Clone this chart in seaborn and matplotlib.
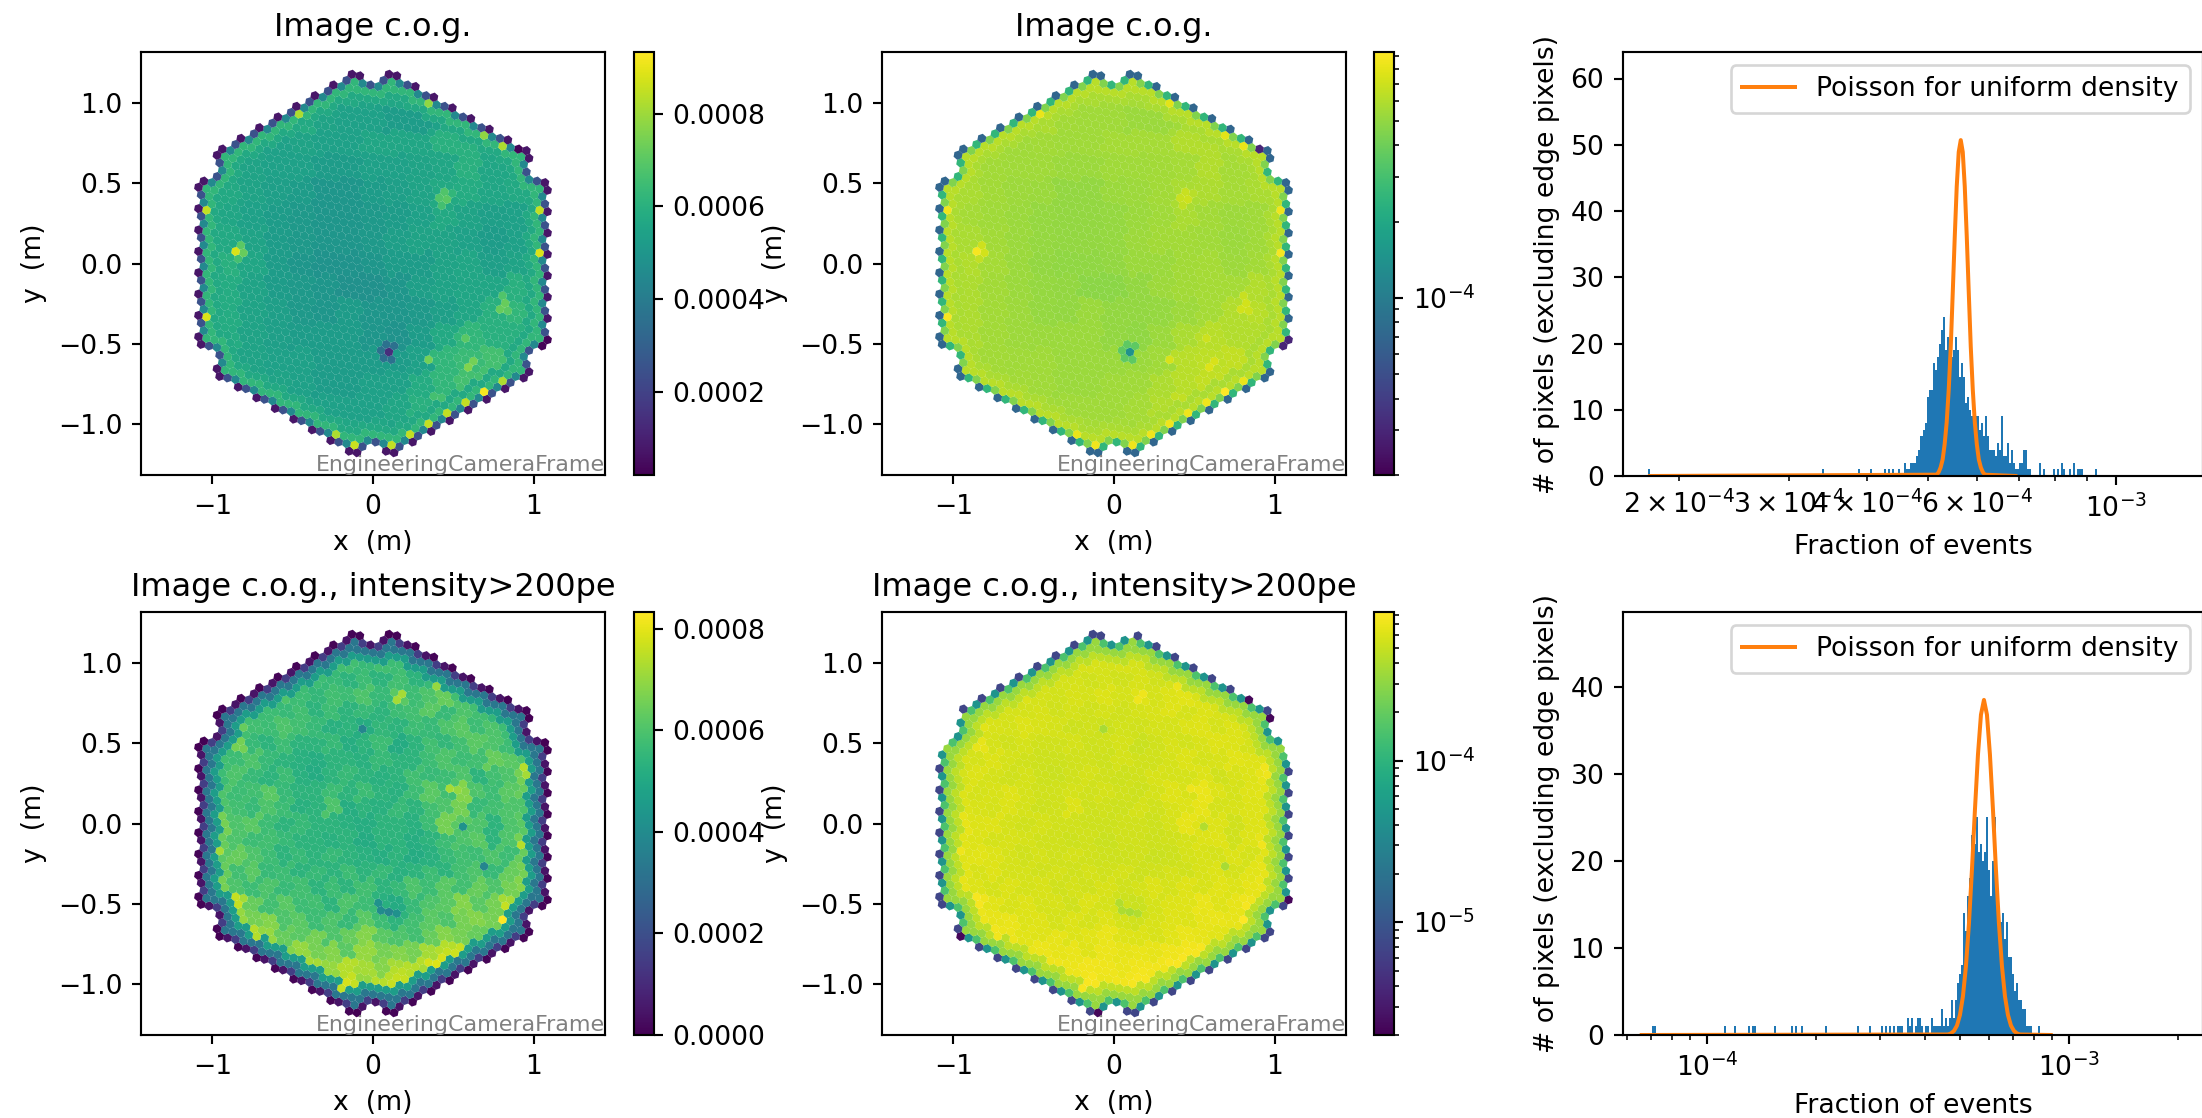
import numpy as np
import matplotlib
matplotlib.use("Agg")
import matplotlib.pyplot as plt
from matplotlib.cm import ScalarMappable
from matplotlib.colors import LogNorm, Normalize
import seaborn as sns

DPI = 192
FIG_W, FIG_H = 2202, 1118

# Image c.o.g. map in units of 1e-5.
# rows y = 1.05 ... -1.05 (step 0.15), columns x = -1.05 ... 1.05 (step 0.15)
COG_ROWS = [
    [54, 54, 54, 54, 54, 54, 57, 55, 56, 54, 54, 54, 54, 54, 54],
    [57, 57, 57, 58, 58, 55, 54, 54, 52, 52, 54, 56, 57, 57, 57],
    [58, 58, 58, 54, 55, 54, 54, 56, 56, 56, 60, 60, 60, 62, 62],
    [58, 58, 55, 54, 54, 52, 52, 54, 54, 55, 56, 60, 56, 57, 60],
    [58, 57, 55, 53, 52, 50, 50, 52, 53, 55, 57, 58, 56, 57, 60],
    [60, 56, 54, 52, 51, 50, 50, 51, 52, 54, 57, 55, 53, 54, 60],
    [60, 57, 55, 52, 51, 50, 50, 51, 53, 55, 55, 54, 52, 54, 60],
    [62, 60, 56, 52, 50, 49, 49, 50, 52, 52, 55, 56, 53, 55, 62],
    [60, 58, 55, 52, 51, 50, 48, 48, 50, 53, 55, 56, 56, 60, 62],
    [60, 58, 55, 53, 51, 50, 52, 50, 50, 51, 53, 56, 60, 62, 62],
    [60, 58, 55, 53, 52, 52, 52, 50, 49, 52, 57, 62, 60, 60, 60],
    [58, 58, 55, 54, 54, 52, 52, 52, 52, 54, 62, 64, 66, 62, 60],
    [60, 60, 58, 55, 54, 52, 52, 54, 54, 58, 62, 66, 70, 68, 60],
    [60, 60, 60, 58, 55, 54, 54, 54, 56, 60, 66, 68, 60, 60, 60],
    [58, 58, 58, 58, 58, 58, 56, 56, 55, 56, 60, 60, 60, 60, 60],
]
# single pixels that stand out from the blocks above
COG_SPOT_X = [0.685, 0.569, 0.455, 0.341, 0.226, 0.112, -0.116, -0.231, 0.800, 0.685,
              1.028, 1.028, -1.030, -1.030, -0.457, 0.341, 0.800, -0.852, 0.098,
              0.07, 0.13, 0.05, 0.07, 0.13, -0.82, -0.80, -0.84, 0.44, 0.47, 0.42,
              0.44, 0.49, 0.814, 0.78, 0.835, 0.80, 0.34, 0.569, 0.617, 0.58,
              0.897, 1.078, 1.043]
COG_SPOT_Y = [-0.791, -0.860, -0.924, -0.993, -1.057, -1.124, -1.124, -1.057, 0.727, 0.791,
              0.330, 0.066, 0.330, -0.332, 0.922, 0.991, -0.727, 0.077, -0.548,
              -0.50, -0.51, -0.54, -0.58, -0.58, 0.11, 0.066, 0.03, 0.43, 0.40, 0.39,
              0.36, 0.43, -0.245, -0.287, -0.29, -0.197, -0.594, -0.463, -0.608, -0.65,
              0.71, -0.473, -0.505]
COG_SPOT_V = [92, 85, 85, 85, 85, 85, 86, 82, 82, 78,
              85, 88, 85, 88, 82, 78, 82, 88, 14,
              36, 36, 36, 36, 36, 70, 72, 66, 68, 70, 68,
              66, 62, 72, 72, 70, 68, 74, 70, 74, 76,
              3, 3, 3]
# rim: pixels with >=3, 2, 1 missing neighbours, then second and third ring
COG_RIM = [7, 25, 45, 62, 57]

# Image c.o.g., intensity>200pe, units of 1e-5
# rows y = 1.0 ... -1.0 (step 0.1), columns x = -1.05 ... 1.05 (step 0.1)
HIGH_ROWS = [
    [54, 54, 54, 54, 54, 54, 55, 55, 56, 58, 56, 58, 57, 54, 57, 56, 54, 54, 54, 54, 54, 54],
    [54, 54, 54, 54, 54, 54, 56, 57, 56, 54, 57, 54, 58, 54, 56, 57, 56, 54, 54, 54, 54, 54],
    [54, 54, 54, 54, 56, 60, 57, 55, 58, 57, 60, 56, 62, 57, 60, 64, 58, 56, 57, 54, 54, 54],
    [54, 54, 56, 54, 57, 56, 58, 54, 57, 54, 56, 54, 57, 58, 62, 56, 60, 58, 55, 57, 54, 54],
    [54, 56, 64, 58, 57, 60, 58, 56, 53, 54, 52, 55, 54, 57, 56, 60, 62, 57, 60, 57, 56, 54],
    [56, 57, 66, 56, 54, 57, 54, 54, 56, 52, 54, 57, 51, 54, 58, 55, 58, 62, 60, 57, 58, 56],
    [54, 58, 57, 60, 56, 54, 53, 52, 54, 54, 53, 56, 54, 54, 57, 60, 57, 58, 64, 62, 60, 58],
    [62, 57, 60, 56, 54, 57, 53, 51, 54, 56, 54, 53, 54, 58, 56, 57, 60, 54, 58, 60, 66, 60],
    [58, 60, 57, 58, 62, 56, 54, 54, 57, 54, 57, 54, 53, 57, 62, 58, 68, 60, 57, 62, 64, 58],
    [64, 60, 58, 56, 60, 57, 53, 54, 60, 52, 54, 53, 56, 54, 58, 60, 66, 56, 58, 60, 60, 57],
    [62, 66, 60, 62, 57, 54, 56, 54, 54, 53, 52, 54, 54, 53, 57, 66, 62, 60, 54, 60, 62, 58],
    [60, 64, 60, 57, 58, 56, 54, 54, 53, 54, 51, 54, 54, 52, 54, 57, 60, 62, 54, 60, 66, 57],
    [66, 62, 64, 60, 57, 54, 56, 54, 56, 54, 53, 52, 54, 51, 53, 56, 58, 57, 60, 57, 64, 60],
    [60, 64, 58, 62, 56, 57, 54, 56, 54, 57, 54, 56, 53, 54, 57, 54, 58, 60, 56, 64, 66, 60],
    [62, 66, 60, 57, 60, 56, 58, 54, 57, 54, 58, 54, 56, 60, 57, 62, 58, 64, 60, 66, 68, 60],
    [60, 68, 72, 64, 58, 62, 57, 58, 54, 60, 57, 53, 51, 56, 60, 62, 68, 62, 66, 72, 66, 58],
    [57, 64, 70, 66, 68, 60, 62, 57, 60, 56, 62, 57, 54, 58, 62, 60, 66, 68, 66, 70, 62, 56],
    [54, 60, 66, 72, 70, 64, 62, 66, 60, 64, 68, 62, 60, 58, 64, 68, 66, 64, 72, 68, 60, 54],
    [54, 54, 62, 64, 66, 68, 70, 66, 68, 62, 70, 66, 68, 66, 72, 74, 76, 72, 70, 64, 57, 54],
    [54, 54, 54, 54, 62, 66, 70, 72, 70, 74, 72, 68, 72, 74, 72, 70, 72, 66, 60, 56, 54, 54],
    [54, 54, 54, 54, 54, 54, 60, 66, 72, 76, 70, 74, 76, 72, 68, 62, 56, 54, 54, 54, 54, 54],
]
HIGH_SPOT_X = [0.80, 0.34, 0.388, 0.424, 0.455, 0.503, -0.168, -0.193, 0.174, 0.129,
               -0.854, -0.833, -0.95, -0.74, -0.719, 0.685, -0.064, 0.555, 0.928, 0.953,
               0.471, 0.519, 0.15, 0.177, 0.393, 0.083, 0.046, 0.035, 0.145, 0.905, 0.815]
HIGH_SPOT_Y = [-0.598, -0.864, -0.87, -0.833, -0.797, -0.806, -0.984, -1.02, -0.92, -0.905,
               -0.455, -0.50, -0.172, -0.656, -0.698, -0.266, 0.585, -0.023, 0.351, 0.30,
               0.212, 0.206, 0.76, 0.80, 0.845, -0.552, -0.542, -0.496, -0.559, -0.137, -0.51]
HIGH_SPOT_V = [83, 78, 79, 78, 76, 77, 78, 76, 75, 74,
               76, 76, 72, 74, 74, 38, 38, 42, 74, 72,
               72, 70, 72, 72, 70, 38, 40, 42, 42, 74, 76]
HIGH_RIM = [0.7, 4.5, 15, 33, 46]
# rim pixels with no events at all: blank in the log maps
EMPTY_X = [0.098, 1.063, 1.078, -1.08, -1.045, -0.966]
EMPTY_Y = [1.17, 0.492, 0.451, 0.465, 0.509, 0.662]
FAINT_X = [0.832, 0.968, -0.947, -0.096, 1.082]
FAINT_Y = [0.764, 0.650, -0.70, -1.173, -0.475]

# histogram of the c.o.g. map (excluding edge pixels)
COG_TAIL_X = [1.80e-4, 3.40e-4, 3.90e-4, 4.08e-4, 4.27e-4, 4.35e-4, 4.41e-4, 4.51e-4,
              7.56e-4, 7.67e-4, 7.96e-4, 8.07e-4, 8.20e-4, 8.28e-4, 8.41e-4, 8.57e-4,
              8.66e-4, 8.76e-4, 8.82e-4, 9.29e-4]
COG_TAIL_N = [1, 1, 1, 1, 1, 1, 1, 1, 2, 1, 1, 1, 2, 1, 1, 2, 1, 1, 1, 1]
COG_CORE_LO, COG_CORE_HI = 4.61e-4, 7.28e-4
COG_CORE_N = [2, 1, 1, 2, 2, 2, 3, 4, 6, 7, 8, 12, 13, 13, 17, 16, 18, 20, 22, 24, 19,
              21, 19, 18, 19, 21, 19, 15, 17, 15, 11, 12, 10, 9, 8, 9, 9, 7, 8, 6, 9,
              6, 4, 4, 4, 3, 5, 4, 9, 3, 3, 5, 2, 4, 2, 1, 1, 2, 2, 4, 4, 1, 1]
COG_POISSON_X = [1.80e-4, 5.171e-4, 5.209e-4, 5.247e-4, 5.286e-4, 5.325e-4, 5.365e-4,
                 5.405e-4, 5.446e-4, 5.486e-4, 5.527e-4, 5.567e-4, 5.608e-4, 5.65e-4,
                 5.692e-4, 5.734e-4, 5.776e-4, 5.819e-4, 5.862e-4, 5.906e-4, 5.950e-4,
                 5.994e-4, 6.038e-4, 6.083e-4, 6.128e-4, 6.173e-4, 6.91e-4]
COG_POISSON_Y = [0, 0.2, 0.58, 1.3, 2.5, 4.8, 8.1, 13, 19.5, 27.7, 36.2, 43.7, 48.9, 50.7,
                 48.9, 43.7, 36.2, 27.7, 19.5, 13, 8.1, 4.8, 2.5, 1.3, 0.58, 0.2, 0]
COG_XLIM = (1.63e-4, 1.378e-3)
COG_YLIM = (0, 64)

# same for the intensity>200pe map
HIGH_TAIL_X = [7.05e-5, 7.2e-5, 1.12e-4, 1.19e-4, 1.31e-4, 1.34e-4, 1.36e-4, 1.55e-4,
               1.72e-4, 1.75e-4, 1.82e-4, 2.13e-4, 2.61e-4, 2.81e-4, 3.04e-4, 3.12e-4,
               3.2e-4, 3.28e-4, 3.35e-4, 3.4e-4, 3.46e-4, 3.59e-4, 3.66e-4, 3.71e-4,
               3.78e-4, 3.85e-4, 8.26e-4]
HIGH_TAIL_N = [1, 1, 1, 1, 1, 1, 1, 1, 1, 1, 1, 1, 1, 1, 1, 1, 1, 1, 1, 1, 1, 2, 1, 2, 1, 2, 1]
HIGH_CORE_LO, HIGH_CORE_HI = 3.88e-4, 7.84e-4
HIGH_CORE_N = [2, 1, 0, 1, 1, 0, 2, 1, 1, 1, 1, 3, 1, 2, 1, 2, 4, 2, 4, 6, 7, 8, 14, 12,
               16, 18, 23, 22, 25, 21, 22, 20, 21, 25, 19, 16, 20, 25, 16, 14, 13, 14,
               11, 13, 9, 9, 7, 5, 6, 4, 4, 3, 3, 1, 1, 1]
HIGH_POISSON_X = [6.6e-5, 4.629e-4, 4.718e-4, 4.809e-4, 4.902e-4, 4.996e-4, 5.092e-4,
                  5.190e-4, 5.290e-4, 5.392e-4, 5.496e-4, 5.602e-4, 5.710e-4, 5.82e-4,
                  5.932e-4, 6.046e-4, 6.163e-4, 6.281e-4, 6.402e-4, 6.526e-4, 6.652e-4,
                  6.780e-4, 6.911e-4, 7.044e-4, 7.180e-4, 7.318e-4, 8.9e-4]
HIGH_POISSON_Y = [0, 0.06, 0.18, 0.47, 1.08, 2.3, 4.45, 7.9, 12.8, 19, 25.9, 32.2, 36.8, 38.5,
                  36.8, 32.2, 25.9, 19, 12.8, 7.9, 4.45, 2.3, 1.08, 0.47, 0.18, 0.06, 0]
HIGH_XLIM = (5.86e-5, 2.344e-3)
HIGH_YLIM = (0, 48.6)

TITLES = ["Image c.o.g.", "Image c.o.g., intensity>200pe"]
FRAME_LABEL = "EngineeringCameraFrame"
POISSON_LABEL = "Poisson for uniform density"
HIST_YLABEL = "# of pixels (excluding edge pixels)"

PITCH = 0.0503
PIXEL_AREA = 12.6
MAP_LIM = (1.445, 1.318)


def camera_sites():
    """LST camera layout: 265 flowers of 7 pixels, in lattice coordinates."""
    sites = set()
    for i in range(-9, 10):
        for j in range(-9, 10):
            if max(abs(i), abs(j), abs(i + j)) > 9:
                continue
            if (abs(i), abs(j)) in [(9, 0), (0, 9), (9, 9)]:
                continue
            # module centre = i * (2U + V) + j * (3V - U)
            cu, cv = 2 * i - j, i + 3 * j
            for du, dv in [(0, 0), (1, 0), (-1, 0), (0, 1), (0, -1), (1, -1), (-1, 1)]:
                sites.add((cu + du, cv + dv))
    return sites


SITES = sorted(camera_sites())
STEPS = [(1, 0), (-1, 0), (0, 1), (0, -1), (1, -1), (-1, 1)]
_lookup = set(SITES)
MISSING = np.array([sum((u + a, v + b) not in _lookup for a, b in STEPS) for u, v in SITES])


def next_ring(ring, seen):
    return {(u + a, v + b) for u, v in ring for a, b in STEPS} & _lookup - seen


_ring1 = {s for s, m in zip(SITES, MISSING) if m > 0}
_ring2 = next_ring(_ring1, _ring1)
_ring3 = next_ring(_ring2, _ring1 | _ring2)
SECOND = np.array([s in _ring2 for s in SITES])
THIRD = np.array([s in _ring3 for s in SITES])
_ang_u, _ang_v = np.radians(109.1), np.radians(49.1)
PX = np.array([PITCH * (u * np.cos(_ang_u) + v * np.cos(_ang_v)) for u, v in SITES])
PY = np.array([PITCH * (u * np.sin(_ang_u) + v * np.sin(_ang_v)) for u, v in SITES])


def nearest(x, y):
    return np.argmin((PX - x) ** 2 + (PY - y) ** 2)


def pixel_values(rows, x0, y0, step, rim, spot_x, spot_y, spot_v):
    rows = np.array(rows, dtype=float)
    col = np.clip(np.rint((PX - x0) / step).astype(int), 0, rows.shape[1] - 1)
    row = np.clip(np.rint((y0 - PY) / step).astype(int), 0, rows.shape[0] - 1)
    vals = rows[row, col]
    vals[MISSING >= 3] = rim[0]
    vals[MISSING == 2] = rim[1]
    vals[MISSING == 1] = rim[2]
    vals[SECOND] = rim[3]
    vals[THIRD] = rim[4]
    for x, y, v in zip(spot_x, spot_y, spot_v):
        vals[nearest(x, y)] = v
    return vals * 1e-5


def axes_at(fig, left, top, right, bottom):
    return fig.add_axes([left / FIG_W, 1 - bottom / FIG_H,
                         (right - left) / FIG_W, (bottom - top) / FIG_H])


def draw_map(fig, box, cbar_box, vals, norm, title):
    ax = axes_at(fig, *box)
    keep = vals > 0 if isinstance(norm, LogNorm) else np.ones(len(vals), dtype=bool)
    sns.scatterplot(x=PX[keep], y=PY[keep], hue=vals[keep], hue_norm=norm, palette="viridis",
                    marker=(6, 0, -10.9), s=PIXEL_AREA, linewidth=0, legend=False, ax=ax)
    ax.set_xlim(-MAP_LIM[0], MAP_LIM[0])
    ax.set_ylim(-MAP_LIM[1], MAP_LIM[1])
    ax.set_xticks([-1, 0, 1])
    ax.set_yticks([-1, -0.5, 0, 0.5, 1])
    ax.set_xlabel("x  (m)")
    ax.set_ylabel("y  (m)")
    ax.set_title(title, fontsize=12)
    ax.text(1, 0, FRAME_LABEL, transform=ax.transAxes, ha="right", va="bottom",
            color="gray", fontsize=8.3)
    cax = axes_at(fig, *cbar_box)
    fig.colorbar(ScalarMappable(norm=norm, cmap="viridis"), cax=cax)


def draw_hist(fig, box, tail_x, tail_n, core_lo, core_hi, core_n, curve_x, curve_y, xlim, ylim, yticks):
    ax = axes_at(fig, *box)
    core_x = np.geomspace(core_lo, core_hi, len(core_n))
    step = np.log10(core_hi / core_lo) / (len(core_n) - 1)
    start = np.log10(core_lo) - step / 2 - 400 * step
    stop = np.log10(core_hi) + step / 2 + 100 * step
    sns.histplot(x=np.concatenate([tail_x, core_x]), weights=np.concatenate([tail_n, core_n]),
                 binwidth=step, binrange=(start, stop), log_scale=True,
                 color="C0", alpha=1, linewidth=0, ax=ax)
    sns.lineplot(x=curve_x, y=curve_y, color="C1", label=POISSON_LABEL, ax=ax)
    ax.set_xlim(*xlim)
    ax.set_ylim(*ylim)
    ax.set_yticks(yticks)
    ax.set_xlabel("Fraction of events")
    ax.set_ylabel(HIST_YLABEL)
    ax.legend(loc="upper right")


def main():
    fig = plt.figure(figsize=(FIG_W / DPI, FIG_H / DPI), dpi=DPI)

    cog = pixel_values(COG_ROWS, -1.05, 1.05, 0.15, COG_RIM, COG_SPOT_X, COG_SPOT_Y, COG_SPOT_V)
    high = pixel_values(HIGH_ROWS, -1.05, 1.0, 0.1, HIGH_RIM, HIGH_SPOT_X, HIGH_SPOT_Y, HIGH_SPOT_V)
    for x, y in zip(FAINT_X, FAINT_Y):
        high[nearest(x, y)] = 0.22e-5
    for x, y in zip(EMPTY_X, EMPTY_Y):
        high[nearest(x, y)] = 0

    rows = [(52, 475), (612, 1035)]
    draw_map(fig, (141, rows[0][0], 605, rows[0][1]), (634, rows[0][0], 654, rows[0][1]),
             cog, Normalize(2e-5, 9.33e-4), TITLES[0])
    draw_map(fig, (882, rows[0][0], 1346, rows[0][1]), (1374, rows[0][0], 1394, rows[0][1]),
             cog, LogNorm(2e-5, 9.33e-4), TITLES[0])
    draw_map(fig, (141, rows[1][0], 605, rows[1][1]), (634, rows[1][0], 654, rows[1][1]),
             high, Normalize(0, 8.33e-4), TITLES[1])
    draw_map(fig, (882, rows[1][0], 1346, rows[1][1]), (1374, rows[1][0], 1394, rows[1][1]),
             high, LogNorm(2e-6, 8.33e-4), TITLES[1])

    draw_hist(fig, (1623, 52, 2203, 476), COG_TAIL_X, COG_TAIL_N, COG_CORE_LO, COG_CORE_HI,
              COG_CORE_N, COG_POISSON_X, COG_POISSON_Y, COG_XLIM, COG_YLIM, range(0, 61, 10))
    draw_hist(fig, (1623, 612, 2203, 1035), HIGH_TAIL_X, HIGH_TAIL_N, HIGH_CORE_LO, HIGH_CORE_HI,
              HIGH_CORE_N, HIGH_POISSON_X, HIGH_POISSON_Y, HIGH_XLIM, HIGH_YLIM, range(0, 41, 10))

    fig.savefig("out.png", dpi=DPI)


if __name__ == "__main__":
    main()
